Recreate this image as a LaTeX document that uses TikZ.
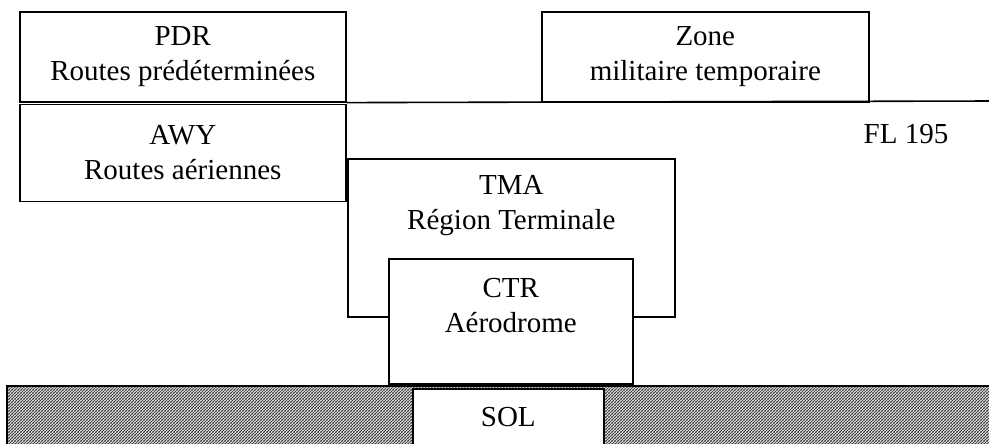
\documentclass[tikz,border=0pt]{standalone}
\usepackage{fontspec}
\setmainfont{Liberation Serif}
\usetikzlibrary{positioning,patterns.meta}

\tikzdeclarepattern{
  name=soil,
  bounding box={(0pt,0pt) and (3pt,3pt)},
  tile size={(3pt,3pt)},
  code={
    \draw[line width=1.1pt] (-0.5pt,-0.5pt) -- (3.5pt,3.5pt);
    \draw[line width=1.1pt] (-0.5pt,2.5pt) -- (0.5pt,3.5pt);
    \draw[line width=1.1pt] (2.5pt,-0.5pt) -- (3.5pt,0.5pt);
  }
}

\begin{document}
\begin{tikzpicture}[
        x=1pt, y=-1pt,
        font=\fontsize{29}{35}\selectfont,
        node distance=2pt,
        zone/.style={draw, line width=1.6pt, align=center, anchor=north west, inner sep=0pt},
        lbl/.style={align=center, inner sep=0pt},
        line/.style={line width=1.6pt}
    ]
        \useasboundingbox (0,0) rectangle (989,444);

        % sol
        \fill[pattern={soil}, pattern color=black!75] (7,386) rectangle (995,450);
        \draw[line] (995,386) -- (7,386) -- (7,450);
        \node[zone, fill=white, minimum width=191, minimum height=62, text depth=5pt] (sol) at (412,388) {SOL};

        % espace superieur
        \node[zone, minimum width=326, minimum height=90] (pdr) at (19,11) {PDR\\Routes prédéterminées};
        \node[zone, minimum width=326, minimum height=97, below=1pt of pdr] (awy) {AWY\\Routes aériennes};
        \node[zone, minimum width=327, minimum height=90] (zmt) at (541,11) {Zone\\militaire temporaire};

        \coordinate (flend) at (995,101);
        \draw[line] (pdr.south east) -- (flend);
        \node[lbl] (fl) at (906,134) {FL 195};

        % espace inferieur
        \node[zone, minimum width=327, minimum height=158] (tma) at (347,158) {};
        \node[lbl, below=17pt of tma.north] (tmatxt) {TMA\\Région Terminale};
        \node[zone, fill=white, minimum width=244, minimum height=125] (ctr) at (388,258) {};
        \node[lbl, below=20pt of ctr.north] (ctrtxt) {CTR\\Aérodrome};
    \end{tikzpicture}
\end{document}
